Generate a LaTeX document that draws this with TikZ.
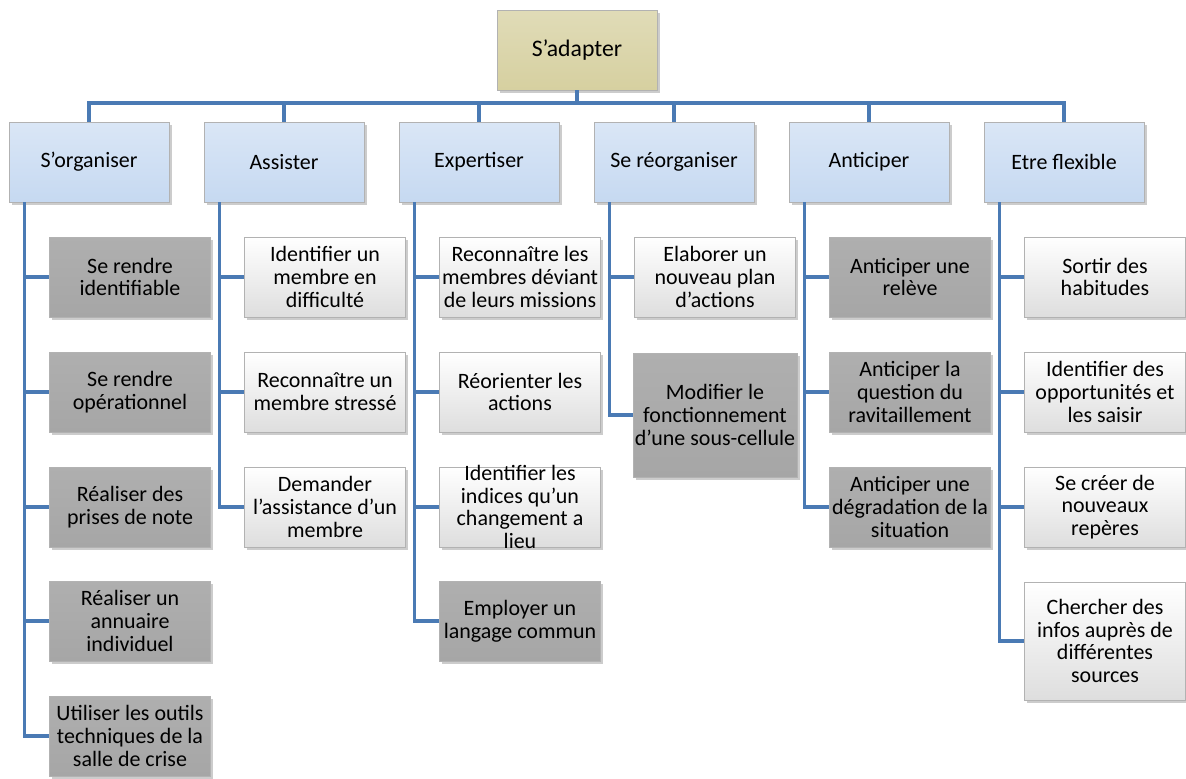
\documentclass[tikz,border=0pt]{standalone}
\usepackage{fontspec}
\setmainfont{Carlito}
\usetikzlibrary{shadows}
\definecolor{linkblue}{RGB}{74,122,180}
\definecolor{headblue}{RGB}{198,217,241}
\definecolor{khaki}{RGB}{214,208,160}
\definecolor{boxgray}{RGB}{166,166,166}

\begin{document}
\begin{tikzpicture}[x=0.02cm, y=-0.02cm, font=\fontsize{12.5}{13}\selectfont,
  base/.style={rectangle, align=center, draw=black!30, line width=0.4pt, inner xsep=1pt,
    drop shadow={shadow xshift=1.5pt, shadow yshift=-1.5pt, opacity=0.4}},
  topbox/.style={base, minimum width=3.2cm, minimum height=1.6cm, top color=khaki!75, bottom color=khaki, font=\fontsize{13.5}{15}\selectfont},
  headbox/.style={base, minimum width=3.2cm, minimum height=1.6cm, top color=headblue!65, bottom color=headblue},
  graybox/.style={base, minimum width=3.22cm, minimum height=1.6cm, top color=boxgray!90, bottom color=boxgray},
  whitebox/.style={base, minimum width=3.22cm, minimum height=1.6cm, top color=white, bottom color=black!13},
  link/.style={draw=linkblue, line width=1.8pt}]
  \useasboundingbox (0,0) rectangle (1186,778);

  % root and first level
  \node[topbox] (adapter) at (577,50) {S’adapter};
  \coordinate (bus) at (0,103);
  \node[headbox] (organiser) at (89,162) {S’organiser};
  \node[headbox] (assister) at (284,162) {Assister};
  \node[headbox] (expertiser) at (479,162) {Expertiser};
  \node[headbox] (reorganiser) at (674,162) {Se réorganiser};
  \node[headbox] (anticiper) at (869,162) {Anticiper};
  \node[headbox] (flexible) at (1064,162) {Etre flexible};

  % S'organiser
  \node[graybox] (org1) at (130,277) {Se rendre\\identifiable};
  \node[graybox] (org2) at (130,392) {Se rendre\\opérationnel};
  \node[graybox] (org3) at (130,507) {Réaliser des\\prises de note};
  \node[graybox] (org4) at (130,621) {Réaliser un\\annuaire\\individuel};
  \node[graybox] (org5) at (130,736) {Utiliser les outils\\techniques de la\\salle de crise};

  % Assister
  \node[whitebox] (ass1) at (325,277) {Identifier un\\membre en\\difficulté};
  \node[whitebox] (ass2) at (325,392) {Reconnaître un\\membre stressé};
  \node[whitebox] (ass3) at (325,507) {Demander\\l’assistance d’un\\membre};

  % Expertiser
  \node[whitebox] (exp1) at (520,277) {Reconnaître les\\membres déviant\\de leurs missions};
  \node[whitebox] (exp2) at (520,392) {Réorienter les\\actions};
  \node[whitebox, inner ysep=-0.14cm] (exp3) at (520,507) {Identifier les\\indices qu’un\\changement a\\lieu};
  \node[graybox] (exp4) at (520,621) {Employer un\\langage commun};

  % Se reorganiser
  \node[whitebox] (reo1) at (715,277) {Elaborer un\\nouveau plan\\d’actions};
  \node[graybox, minimum height=2.48cm] (reo2) at (715,415) {Modifier le\\fonctionnement\\d’une sous-cellule};

  % Anticiper
  \node[graybox] (ant1) at (910,277) {Anticiper une\\relève};
  \node[graybox] (ant2) at (910,392) {Anticiper la\\question du\\ravitaillement};
  \node[graybox] (ant3) at (910,507) {Anticiper une\\dégradation de la\\situation};

  % Etre flexible
  \node[whitebox] (fle1) at (1105,277) {Sortir des\\habitudes};
  \node[whitebox] (fle2) at (1105,392) {Identifier des\\opportunités et\\les saisir};
  \node[whitebox] (fle3) at (1105,507) {Se créer de\\nouveaux\\repères};
  \node[whitebox, minimum height=2.36cm] (fle4) at (1105,641) {Chercher des\\infos auprès de\\différentes\\sources};

  % connectors
  \foreach \h in {organiser,assister,expertiser,reorganiser,anticiper,flexible}
    \draw[link] (adapter.south) -- (adapter.south |- bus) -| (\h.north);
  \foreach \c in {org1,org2,org3,org4,org5}
    \draw[link] ([xshift=0.32cm]organiser.south west) |- (\c.west);
  \foreach \c in {ass1,ass2,ass3}
    \draw[link] ([xshift=0.32cm]assister.south west) |- (\c.west);
  \foreach \c in {exp1,exp2,exp3,exp4}
    \draw[link] ([xshift=0.32cm]expertiser.south west) |- (\c.west);
  \foreach \c in {reo1,reo2}
    \draw[link] ([xshift=0.32cm]reorganiser.south west) |- (\c.west);
  \foreach \c in {ant1,ant2,ant3}
    \draw[link] ([xshift=0.32cm]anticiper.south west) |- (\c.west);
  \foreach \c in {fle1,fle2,fle3,fle4}
    \draw[link] ([xshift=0.32cm]flexible.south west) |- (\c.west);
\end{tikzpicture}
\end{document}
